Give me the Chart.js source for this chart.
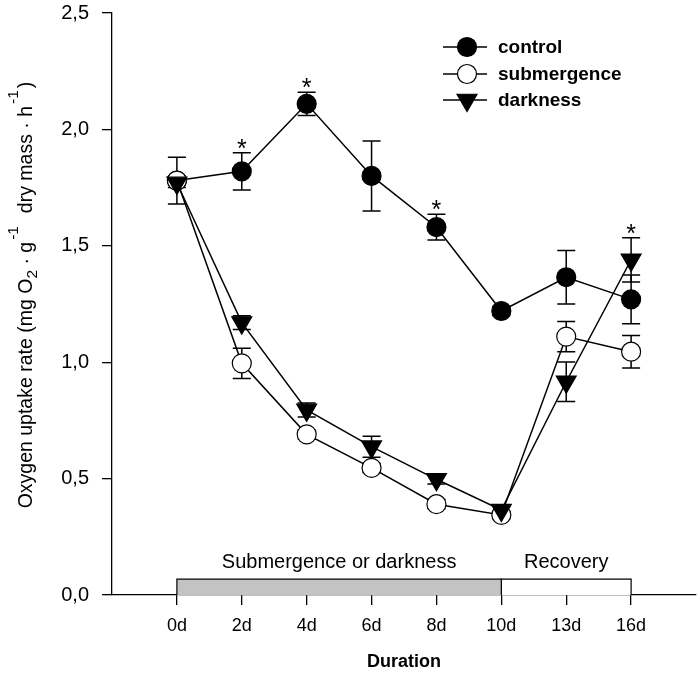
<!DOCTYPE html>
<html><head><meta charset="utf-8">
<script src="https://cdn.jsdelivr.net/npm/chart.js@4.4.0/dist/chart.umd.min.js"></script>
<style>html,body{margin:0;padding:0;background:#fff}#wrap{width:700px;height:673px;position:relative}</style>
</head><body><div id="wrap"><canvas id="c"></canvas></div>
<script>
// ---- data ----
const categories = ['0d','2d','4d','6d','8d','10d','13d','16d'];
const control        = [1.78, 1.82, 2.11, 1.80, 1.58, 1.22, 1.365, 1.27];
const controlErr     = [0.10, 0.08, 0.05, 0.15, 0.055, 0.02, 0.115, 0.105];
const submergence    = [1.78, 0.995, 0.69, 0.546, 0.39, 0.344, 1.11, 1.045];
const submergenceErr = [0.02, 0.065, 0.02, 0.02, 0.02, 0.015, 0.065, 0.07];
const darkness       = [1.77, 1.17, 0.795, 0.637, 0.497, 0.365, 0.916, 1.44];
const darknessErr    = [0.02, 0.03, 0.03, 0.045, 0.02, 0.015, 0.085, 0.095];
const yTicks = [0, 0.5, 1.0, 1.5, 2.0, 2.5];
const sigSeries = ['control', 'control', 'control', 'darkness'];
const sigIndex  = [1, 2, 4, 7];
const phaseLabels = ['Submergence or darkness', 'Recovery'];
const phaseStart  = [0, 5];
const phaseEnd    = [5, 7];
const phaseHeight = 0.068;
const phaseFill   = ['#c3c3c3', '#ffffff'];

const FONT = "'Liberation Sans', Arial, Helvetica, sans-serif";
const seriesMap = {
  control: {vals: control, err: controlErr},
  submergence: {vals: submergence, err: submergenceErr},
  darkness: {vals: darkness, err: darknessErr}
};
const xy = arr => arr.map((v, i) => ({x: i, y: v}));

const seriesStyle = {
  control:     {pointStyle: 'circle',   pointRadius: 9.5, pointBackgroundColor: '#000', pointRotation: 0},
  submergence: {pointStyle: 'circle',   pointRadius: 9.5, pointBackgroundColor: '#fff', pointRotation: 0},
  darkness:    {pointStyle: 'triangle', pointRadius: 11.5, pointBackgroundColor: '#000', pointRotation: 180}
};

function seriesDataset(name, order) {
  const s = seriesStyle[name];
  return {
    label: name, data: xy(seriesMap[name].vals), order,
    borderColor: '#000', borderWidth: 1.5, tension: 0, fill: false,
    pointStyle: s.pointStyle, pointRadius: s.pointRadius, pointHoverRadius: s.pointRadius,
    pointBackgroundColor: s.pointBackgroundColor, pointBorderColor: '#000', pointBorderWidth: 1.2,
    pointRotation: s.pointRotation, clip: false
  };
}
function phaseDataset(i) {
  return {
    label: phaseLabels[i], order: 20 + i,
    data: [{x: phaseStart[i], y: 0}, {x: phaseStart[i], y: phaseHeight}, {x: phaseEnd[i], y: phaseHeight}, {x: phaseEnd[i], y: 0}],
    borderColor: '#000', borderWidth: 1.2, backgroundColor: phaseFill[i], fill: 'origin',
    pointRadius: 0, pointHoverRadius: 0, tension: 0
  };
}

const errorBarPlugin = {
  id: 'errbars',
  beforeDatasetsDraw(chart) {
    const {ctx, scales: {x, y}} = chart;
    ctx.save();
    ctx.strokeStyle = '#000'; ctx.lineWidth = 1.5;
    for (const name of ['control', 'submergence', 'darkness']) {
      const {vals, err} = seriesMap[name];
      vals.forEach((v, i) => {
        const px = x.getPixelForValue(i);
        const top = y.getPixelForValue(v + err[i]);
        const bot = y.getPixelForValue(v - err[i]);
        ctx.beginPath();
        ctx.moveTo(px, top); ctx.lineTo(px, bot);
        ctx.moveTo(px - 9, top); ctx.lineTo(px + 9, top);
        ctx.moveTo(px - 9, bot); ctx.lineTo(px + 9, bot);
        ctx.stroke();
      });
    }
    ctx.restore();
  }
};

const annotPlugin = {
  id: 'annot',
  afterDraw(chart) {
    const {ctx, scales: {x, y}} = chart;
    ctx.save();
    ctx.fillStyle = '#000';
    // asterisks
    ctx.font = `25px ${FONT}`; ctx.textAlign = 'center'; ctx.textBaseline = 'alphabetic';
    sigIndex.forEach((idx, k) => {
      const s = seriesMap[sigSeries[k]];
      const top = y.getPixelForValue(s.vals[idx] + s.err[idx]);
      ctx.fillText('*', x.getPixelForValue(idx), top + 4);
    });
    // phase labels
    ctx.font = `20px ${FONT}`; ctx.textBaseline = 'middle';
    phaseLabels.forEach((lab, i) => {
      const cx = (x.getPixelForValue(phaseStart[i]) + x.getPixelForValue(phaseEnd[i])) / 2;
      ctx.fillText(lab, cx, y.getPixelForValue(phaseHeight) - 17);
    });
    // legend
    const names = ['control', 'submergence', 'darkness'];
    const ly = [47, 74, 100];
    names.forEach((n, i) => {
      ctx.strokeStyle = '#000'; ctx.lineWidth = 1.5;
      ctx.beginPath(); ctx.moveTo(443, ly[i]); ctx.lineTo(487, ly[i]); ctx.stroke();
      const s = seriesStyle[n];
      ctx.fillStyle = s.pointBackgroundColor; ctx.strokeStyle = '#000'; ctx.lineWidth = 1.2;
      Chart.helpers.drawPoint(ctx, {pointStyle: s.pointStyle, radius: s.pointRadius, rotation: s.pointRotation, borderWidth: 1.2}, 467, ly[i]);
      ctx.fillStyle = '#000';
      ctx.font = `bold 19px ${FONT}`; ctx.textAlign = 'left'; ctx.textBaseline = 'middle';
      ctx.fillText(n, 498, ly[i] + 1);
    });
    // y-axis title with sub/superscripts
    const segs = [
      ['Oxygen uptake rate (mg O', 'n'], ['2', 'sub'], [' \u00b7 g', 'n'], ['-1', 'sup'],
      ['  dry mass \u00b7 h', 'n'], ['-1', 'sup'], [')', 'n']
    ];
    const fN = `19.5px ${FONT}`, fS = `15.5px ${FONT}`;
    let total = 0;
    segs.forEach(([t, k]) => { ctx.font = k === 'n' ? fN : fS; total += ctx.measureText(t).width + (k === 'sup' ? 4 : 0); });
    ctx.translate(32, 295 + total / 2);
    ctx.rotate(-Math.PI / 2);
    ctx.textAlign = 'left'; ctx.textBaseline = 'alphabetic';
    let cx = 0;
    segs.forEach(([t, k]) => {
      ctx.font = k === 'n' ? fN : fS;
      const dy = k === 'sup' ? -14 : (k === 'sub' ? 5 : 0);
      const pad = k === 'sup' ? 2 : 0;
      ctx.fillText(t, cx + pad, dy);
      cx += ctx.measureText(t).width + pad * 2;
    });
    ctx.restore();
  }
};

const axisCommon = {
  grid: {drawOnChartArea: false, drawTicks: true, tickLength: 10, color: '#000', lineWidth: 1.3},
  border: {display: true, color: '#000', width: 1.3}
};

new Chart(document.getElementById('c'), {
  type: 'line',
  data: {
    datasets: [
      seriesDataset('darkness', 1),
      seriesDataset('submergence', 2),
      seriesDataset('control', 3),
      phaseDataset(0),
      phaseDataset(1)
    ]
  },
  options: {
    responsive: true, maintainAspectRatio: false, animation: false,
    devicePixelRatio: 1,
    layout: {autoPadding: false, padding: {top: 13, right: 4, left: 0, bottom: 0}},
    plugins: {legend: {display: false}, tooltip: {enabled: false}},
    scales: {
      x: {
        type: 'linear', min: -1, max: 8, ...axisCommon,
        afterBuildTicks: s => { s.ticks = categories.map((c, i) => ({value: i})); },
        ticks: {autoSkip: false, maxRotation: 0, color: '#000', padding: 10,
                font: {family: FONT, size: 18}, callback: v => categories[v] ?? ''},
        title: {display: true, text: 'Duration', color: '#000', padding: 0,
                font: {family: FONT, size: 18, weight: 'bold'}},
        afterFit: s => { s.height = 78; s.paddingLeft = 0; s.paddingRight = 0; }
      },
      y: {
        type: 'linear', min: 0, max: 2.5, ...axisCommon,
        afterBuildTicks: s => { s.ticks = yTicks.map(v => ({value: v})); },
        ticks: {color: '#000', padding: 13, font: {family: FONT, size: 20},
                callback: v => v.toFixed(1).replace('.', ',')},
        afterFit: s => { s.width = 112; s.paddingTop = 0; s.paddingBottom = 0; }
      }
    }
  },
  plugins: [errorBarPlugin, annotPlugin]
});
</script>
</body></html>
